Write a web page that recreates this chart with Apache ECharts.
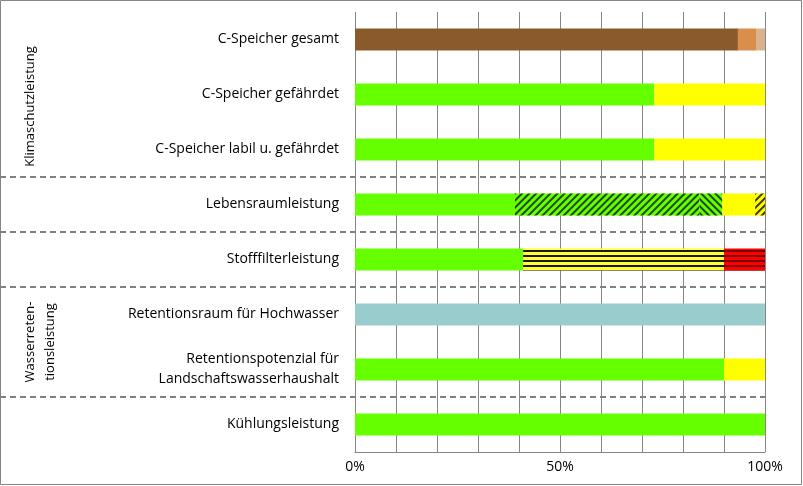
<!DOCTYPE html><html><head><meta charset="utf-8"><script src="https://cdn.jsdelivr.net/npm/echarts@6/dist/echarts.min.js"></script><style>body{margin:0}#c{width:803px;height:486px}</style></head><body><div id="c"></div><script>
const categories=["C-Speicher gesamt","C-Speicher gefährdet","C-Speicher labil u. gefährdet","Lebensraumleistung","Stofffilterleistung","Retentionsraum für Hochwasser","Retentionspotenzial für\nLandschaftswasserhaushalt","Kühlungsleistung"];
const brown=[93.4,0,0,0,0,0,0,0];
const orange=[4.4,0,0,0,0,0,0,0];
const tan=[2.2,0,0,0,0,0,0,0];
const green=[0,73,73,39,41,0,90,100];
const greenHatch=[0,0,0,45,0,0,0,0];
const greenCross=[0,0,0,5.6,0,0,0,0];
const yellow=[0,27,27,8,0,0,10,0];
const yellowHatch=[0,0,0,2.4,0,0,0,0];
const yellowStripe=[0,0,0,0,49,0,0,0];
const redStripe=[0,0,0,0,10,0,0,0];
const teal=[0,0,0,0,0,100,0,0];
const groupLabels=["Klimaschutzleistung","Wasserreten-\ntionsleistung"];
const diag=(c,r)=>({symbol:'rect',symbolSize:1,color:c,dashArrayX:[1,0],dashArrayY:[2,3],rotation:r});
const horiz=c=>({symbol:'rect',symbolSize:1,color:c,dashArrayX:[1,0],dashArrayY:[2,3],rotation:0});
function s(d,col,decal){return {type:'bar',stack:'a',data:d,barWidth:22,itemStyle:{color:col,decal:decal},silent:true};}
const chart=echarts.init(document.getElementById('c'));
const T=12,step=55,L=355,R=765;
const seps=[3,4,5,7].map(i=>({type:'line',shape:{x1:0,y1:T+i*step,x2:R,y2:T+i*step},style:{stroke:'#808080',lineWidth:2,lineDash:[6,4]}}));
chart.setOption({aria:{enabled:true,decal:{show:false}},animation:false,
grid:{left:L,right:803-R,top:T,bottom:486-T-8*step},
xAxis:{type:'value',min:0,max:100,interval:10,axisLabel:{formatter:v=>v%50===0?v+'%':'',fontSize:14,color:'#000',fontFamily:'Open Sans'},splitLine:{lineStyle:{color:'#868686'}},axisLine:{show:true,lineStyle:{color:'#868686'}},axisTick:{show:false}},
yAxis:{type:'category',inverse:true,data:categories,axisTick:{show:false},axisLine:{show:false},axisLabel:{fontSize:14,color:'#000',fontFamily:'Open Sans',margin:16,lineHeight:20}},
series:[s(brown,'#8B5A2B'),s(orange,'#D98E4A'),s(tan,'#D9B38C'),s(green,'#66FF00'),
s(greenHatch,'#66FF00',diag('#1F4A0F',-Math.PI/4)),s(greenCross,'#66FF00',diag('#1F4A0F',Math.PI/4)),
s(yellow,'#FFFF00'),s(yellowHatch,'#FFFF00',diag('#3A3A00',-Math.PI/4)),
s(yellowStripe,'#FFFF33',horiz('#1A1A1A')),s(redStripe,'#FF0000',horiz('#7A0000')),s(teal,'#99CCCC')],
graphic:[{type:'rect',shape:{x:0.5,y:0.5,width:801,height:484},style:{fill:'none',stroke:'#868686'}},...seps,
{type:'text',x:30,y:T+1.5*step+12,rotation:Math.PI/2,style:{text:groupLabels[0],fontSize:13,fontFamily:'Open Sans',fill:'#000',align:'center',verticalAlign:'middle'}},
{type:'text',x:40,y:T+6*step,rotation:Math.PI/2,style:{text:groupLabels[1],fontSize:13,fontFamily:'Open Sans',fill:'#000',align:'center',verticalAlign:'middle',lineHeight:20}}]
});
</script></body></html>
